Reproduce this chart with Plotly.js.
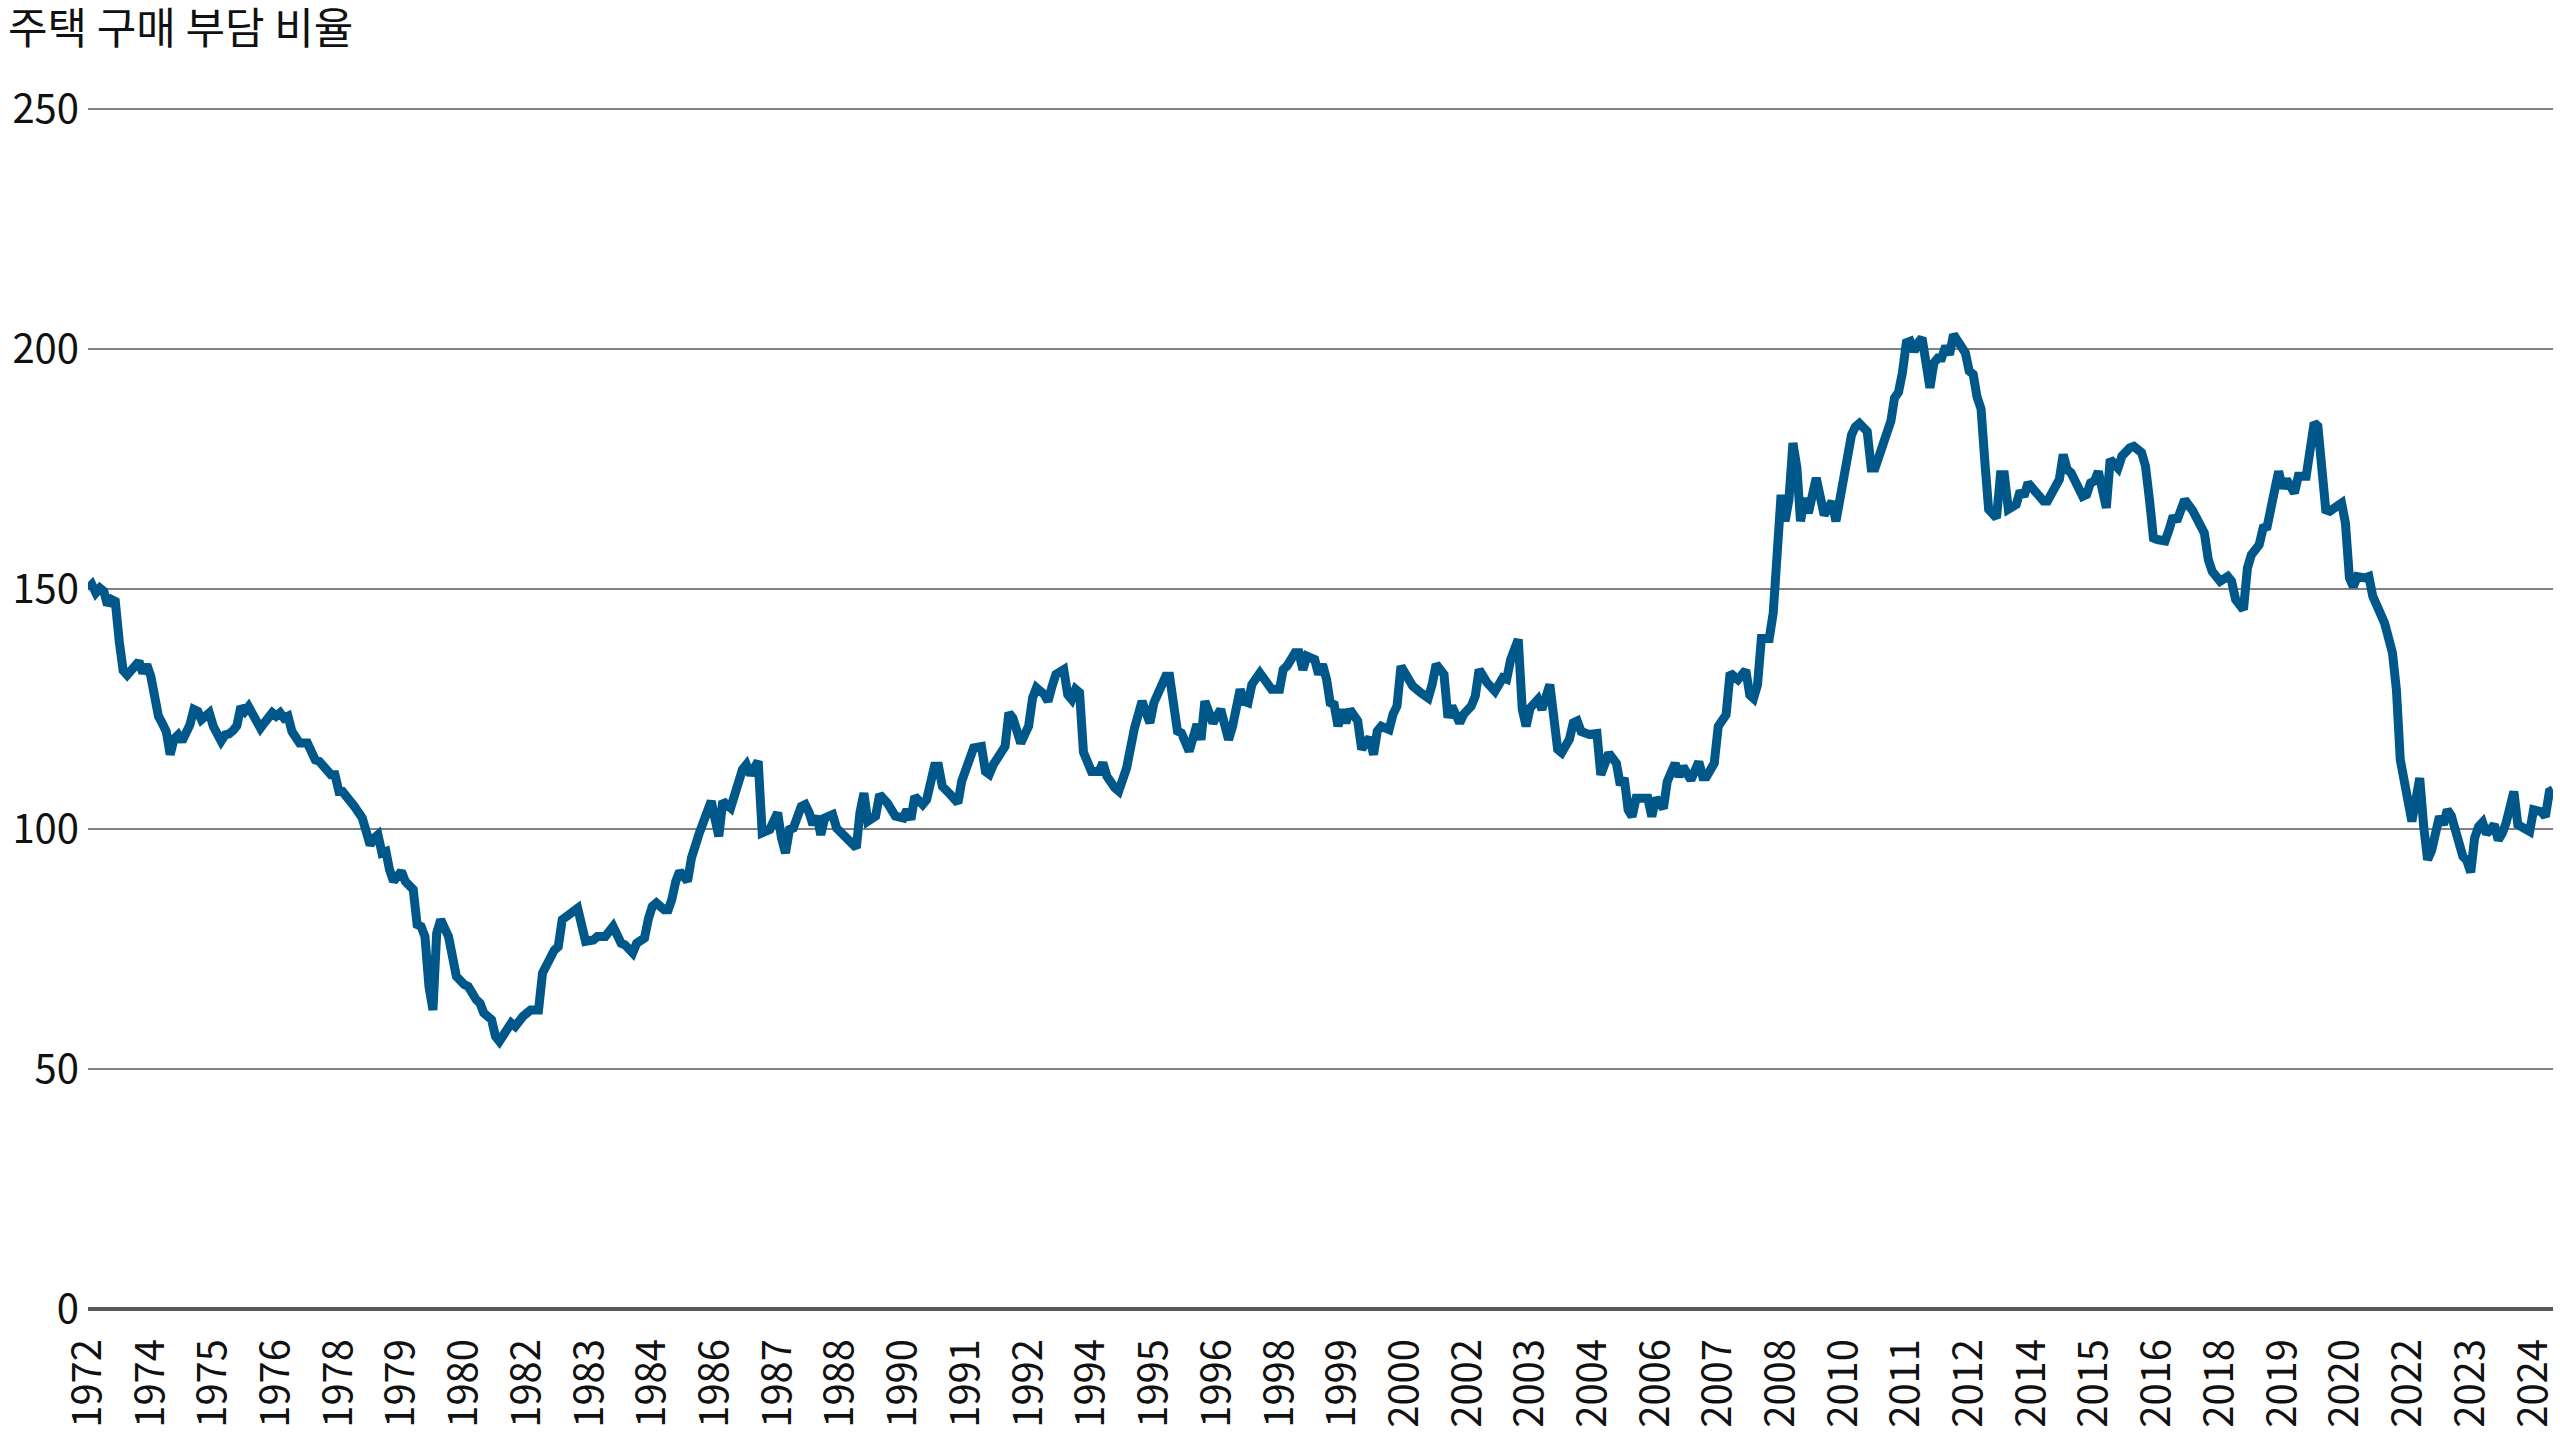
<!DOCTYPE html>
<html><head><meta charset="utf-8">
<script src="https://cdn.plot.ly/plotly-3.0.1.min.js"></script>
<style>html,body{margin:0;padding:0;background:#fff;}#chart{width:2560px;height:1440px;}</style>
</head><body><div id="chart"></div>
<script>
const chartTitle = "주택 구매 부담 비율";

const dates = [
"1972-10","1972-11","1972-12",
"1973-01","1973-02","1973-03","1973-04","1973-05","1973-06","1973-07","1973-08","1973-09","1973-10","1973-11","1973-12",
"1974-01","1974-02","1974-03","1974-04","1974-05","1974-06","1974-07","1974-08","1974-09","1974-10","1974-11","1974-12",
"1975-01","1975-02","1975-03","1975-04","1975-05","1975-06","1975-07","1975-08","1975-09","1975-10","1975-11","1975-12",
"1976-01","1976-02","1976-03","1976-04","1976-05","1976-06","1976-07","1976-08","1976-09","1976-10","1976-11","1976-12",
"1977-01","1977-02","1977-03","1977-04","1977-06","1977-07","1977-08","1977-09","1977-11","1977-12",
"1978-01","1978-02","1978-03","1978-05","1978-06","1978-08","1978-09","1978-10","1978-11","1978-12",
"1979-01","1979-02","1979-03","1979-04","1979-06","1979-07","1979-09","1979-10","1979-11","1979-12",
"1980-01","1980-02","1980-03","1980-04","1980-06","1980-08","1980-10","1980-11",
"1981-01","1981-02","1981-03","1981-05","1981-06","1981-07","1981-10","1981-11",
"1982-01","1982-03","1982-05","1982-06","1982-09","1982-10","1982-11",
"1983-01","1983-03","1983-05","1983-07","1983-08","1983-10","1983-12",
"1984-02","1984-03","1984-05","1984-06","1984-08","1984-09","1984-10","1984-11",
"1985-01","1985-02","1985-03","1985-04","1985-05","1985-07","1985-08","1985-10","1985-12",
"1986-01","1986-03","1986-04","1986-06","1986-07","1986-08","1986-09","1986-10","1986-11",
"1987-01","1987-02","1987-04","1987-06","1987-07","1987-08","1987-09","1987-10","1987-12",
"1988-01","1988-02","1988-03","1988-04","1988-05","1988-06","1988-08","1988-09","1988-11",
"1989-02","1989-03","1989-04","1989-05","1989-07","1989-08","1989-10","1989-12",
"1990-02","1990-03","1990-04","1990-05","1990-07","1990-08","1990-10","1990-11","1990-12",
"1991-02","1991-04","1991-05","1991-08","1991-10","1991-11","1991-12",
"1992-01","1992-03","1992-04","1992-05","1992-06","1992-08","1992-10","1992-11","1992-12",
"1993-02","1993-03","1993-04","1993-05","1993-07","1993-08","1993-09","1993-10","1993-11","1993-12",
"1994-02","1994-04","1994-05","1994-06","1994-08","1994-09","1994-11","1994-12",
"1995-01","1995-03","1995-05","1995-06","1995-07","1995-09","1995-10","1995-12",
"1996-01","1996-03","1996-05","1996-06","1996-07","1996-09","1996-11",
"1997-01","1997-02","1997-04","1997-05","1997-06","1997-07","1997-09","1997-12",
"1998-02","1998-03","1998-04","1998-06","1998-07","1998-08","1998-09","1998-11","1998-12",
"1999-01","1999-02","1999-03","1999-04","1999-05","1999-06","1999-07","1999-08","1999-10","1999-11","1999-12",
"2000-01","2000-02","2000-03","2000-04","2000-06","2000-07","2000-08","2000-09","2000-11","2000-12",
"2001-02","2001-04","2001-05","2001-06","2001-08","2001-09","2001-10","2001-12",
"2002-01","2002-03","2002-04","2002-05","2002-07","2002-09","2002-11","2002-12",
"2003-01","2003-03","2003-04","2003-05","2003-06","2003-08","2003-09","2003-10","2003-11",
"2004-01","2004-02","2004-04","2004-05","2004-06","2004-07","2004-09","2004-11","2004-12",
"2005-02","2005-04","2005-05","2005-06","2005-07","2005-08","2005-09","2005-11","2005-12",
"2006-01","2006-02","2006-04","2006-05","2006-07","2006-08","2006-09","2006-11",
"2007-01","2007-02","2007-03","2007-05","2007-06","2007-08","2007-09","2007-11",
"2008-01","2008-02","2008-03","2008-04","2008-05","2008-07","2008-08","2008-09","2008-10","2008-11","2008-12",
"2009-01","2009-02","2009-03","2009-04","2009-05","2009-07","2009-09","2009-11","2009-12",
"2010-02","2010-03","2010-04","2010-05","2010-06","2010-08","2010-09","2010-10","2010-12",
"2011-02","2011-03","2011-04","2011-05","2011-06","2011-07","2011-08","2011-09","2011-10","2011-12",
"2012-01","2012-02","2012-03","2012-04","2012-05","2012-06","2012-08","2012-09","2012-10","2012-11","2012-12",
"2013-01","2013-02","2013-03","2013-05","2013-06","2013-07","2013-08","2013-10","2013-11","2013-12",
"2014-01","2014-02","2014-04","2014-05","2014-06","2014-07","2014-08","2014-09","2014-10","2014-11","2014-12",
"2015-02","2015-03","2015-04","2015-05","2015-06","2015-07","2015-09","2015-10","2015-12",
"2016-01","2016-03","2016-04","2016-06","2016-07","2016-08","2016-09","2016-10","2016-12",
"2017-01","2017-02","2017-03","2017-05","2017-07","2017-08","2017-10","2017-11","2017-12",
"2018-02","2018-04","2018-05","2018-06","2018-08","2018-09","2018-10","2018-12",
"2019-01","2019-02","2019-04","2019-05","2019-06","2019-07","2019-09","2019-10","2019-12",
"2020-02","2020-03","2020-04","2020-05","2020-06","2020-09","2020-10","2020-11","2020-12",
"2021-01","2021-03","2021-04","2021-05","2021-07","2021-08","2021-10","2021-11","2021-12",
"2022-01","2022-03","2022-04","2022-05","2022-06","2022-07","2022-08","2022-09","2022-10","2022-11","2022-12",
"2023-01","2023-02","2023-03","2023-04","2023-05","2023-06","2023-07","2023-08","2023-09","2023-10","2023-12",
"2024-01","2024-02","2024-03","2024-05","2024-06","2024-09","2024-10","2024-12",
"2025-01","2025-02","2025-03"
];

const values = [
150.0,150.9,149.2,
150.2,149.5,146.7,147.8,147.4,139,133,132.1,133.0,133.9,134.9,132.5,
134.2,131.8,126.2,123.5,122,120.3,115.5,118.8,119.6,118.3,120.0,121.7,
124.9,124.5,122.8,123.5,124.2,121.4,119.3,118.3,119.6,119.8,120.5,121.5,
125.5,124.5,125.5,123.8,122.8,121.0,122.1,123.5,124.2,123.5,124.2,123.1,
123.5,120.3,119.3,117.9,117.9,116.5,114.4,114.1,112.0,111.3,
111.3,107.8,107.8,106.1,104.7,102.3,98.8,96.7,98.1,98.8,
95.0,95.3,91.5,89.1,91.2,89.1,87.4,80.1,79.7,77.6,
67.2,62.3,78.3,81.1,77.6,69.3,67.6,67.2,
64.5,63.7,61.7,60.3,56.8,55.8,59.6,58.9,
61.0,62.3,62.3,70.0,74.8,75.5,81.1,
82.5,83.5,76.6,76.9,77.6,77.6,79.7,
76.2,75.9,74.2,76.2,77.3,81.4,83.9,84.6,
83.2,83.2,85.3,89.1,91.2,89.1,94.0,99.2,103.4,
105.8,98.5,105.8,104.4,107.2,109.3,112.4,113.4,111.3,
114.1,99.2,99.9,103.4,98.1,95.0,99.9,100.2,104.7,
105.1,103.4,100.9,102.7,98.8,102.3,103.0,100.2,98.5,
96.1,103.4,107.5,101.6,102.7,107.2,105.4,102.7,
102.3,104.0,102.0,106.8,105.1,106.1,113.1,113.1,108.9,
107.2,105.4,110.0,116.9,117.2,112.0,111.4,
113.4,115.9,117.2,124.2,123.1,117.9,121.4,127.3,129.4,
128.0,126.6,129.7,132.2,133.2,128.0,127.0,129.1,128.4,116,
112.0,112.0,113.8,111.0,108.6,107.9,112.7,117.9,
121.0,126.6,122.1,126.3,128.0,131.8,131.8,120.4,
120.0,116.2,121.8,118.6,126.6,122.1,124.9,
118.6,121.4,129.1,126.6,126.3,130.1,132.5,129.1,
129.1,133.2,134,136.7,136.7,133.2,136.0,135.3,132.2,
134.3,131.2,126.3,125.9,121.4,124.9,122.1,124.9,122.5,116.6,118.0,
119.0,115.5,120.4,121.4,120.7,123.9,125.6,133.9,131.5,129.8,
128.4,127.3,130.1,134.3,132.2,123.2,125.6,122.1,
123.9,125.6,127.7,133.2,130.5,128.7,131.5,131.2,
135.3,139.5,124.9,121.4,125.2,127.0,124.9,127.7,130.1,
116.6,115.9,118.7,122.1,122.5,120.3,119.7,119.9,111.3,
115.8,113.7,109.2,110.6,104,102.6,106.4,106.4,106.4,
102.6,106.4,104.3,109.9,113.7,110.9,113.0,110.2,
114.0,110.9,110.9,113.7,121.4,123.8,132.5,131.1,
133.1,127.9,127.2,130.0,139.7,139.7,145.0,162.3,169.6,164.1,168.6,
180.4,175.2,164.1,168.9,165.8,173.1,165.4,168.2,164.1,
173.8,178.3,182.1,183.8,184.5,182.8,175.2,175.2,180.5,
185.0,189.8,191,195,201.3,201.6,199.5,201.3,202.3,191.9,
197.1,198.1,198.1,200.6,198.8,203.0,200.9,199.2,195.4,194.7,190.0,
187.5,176,166.6,164.8,173.8,173.8,166.6,167.6,170.4,169.3,
172.1,171.1,169.3,168.3,168.3,170.0,171.4,172.8,178.0,174.9,174.2,
170.7,169.3,169.7,172.1,172.5,174.5,166.9,177.0,175.2,
177.7,179.4,179.7,178.4,175.6,168.6,160.6,160.3,160.0,
162.4,165.2,164.1,168.6,166.4,165.1,161.7,156.1,153.7,
151.6,152.6,151.6,147.8,145.7,154.4,157.1,159.2,
162.7,163.0,170.7,174.5,171.0,172.8,170.0,173.5,173.5,
184.6,183.9,176.2,166.5,166.2,167.9,163.7,152.3,150.5,
152.6,152.3,152.6,148.5,145.4,142.9,136.7,129.0,114.4,
109.2,101.6,106.1,110.6,100.5,93.6,95.5,100.0,102.6,100.9,104.0,
102.8,99.2,97.4,94.3,93.5,91.0,98.1,100.5,101.4,99.0,100.9,
97.7,99.1,101.2,107.8,100.9,99.5,104.0,103.6,
102.6,107.8,108.2
];

const tickLabels = ["1972","1974","1975","1976","1978","1979","1980","1982","1983","1984",
"1986","1987","1988","1990","1991","1992","1994","1995","1996","1998",
"1999","2000","2002","2003","2004","2006","2007","2008","2010","2011",
"2012","2014","2015","2016","2018","2019","2020","2022","2023","2024"];
const yTicks = [0, 50, 100, 150, 200, 250];

// tick positions every 16 months from the first data month
const firstTickYear = 1972, firstTickMonth = 10, tickStepMonths = 16;
const tickvals = tickLabels.map((_, k) => {
  const total = firstTickYear * 12 + (firstTickMonth - 1) + k * tickStepMonths;
  const y = Math.floor(total / 12), m = total % 12 + 1;
  return y + "-" + String(m).padStart(2, "0") + "-01";
});

const FONT = '"Noto Sans CJK KR", "Noto Sans", sans-serif';

const trace = {
  type: "scatter", mode: "lines",
  x: dates, y: values,
  line: { color: "#00578a", width: 9, shape: "linear" },
  hoverinfo: "skip"
};

const layout = {
  width: 2560, height: 1440,
  paper_bgcolor: "#ffffff", plot_bgcolor: "#ffffff",
  margin: { l: 88, r: 7, t: 106.4, b: 127.8, pad: 0 },
  showlegend: false,
  font: { family: FONT, color: "#111111", size: 40 },
  title: {
    text: chartTitle,
    font: { family: FONT, size: 43, color: "#111111" },
    x: 8 / 2560, xref: "container", xanchor: "left",
    y: 1 - 29 / 1440, yref: "container", yanchor: "middle"
  },
  xaxis: {
    type: "date",
    range: [dates[0] + "-01", dates[dates.length - 1] + "-01"],
    tickmode: "array", tickvals: tickvals, ticktext: tickLabels,
    tickangle: -90, ticks: "", showgrid: false, zeroline: false, showline: false,
    tickfont: { family: FONT, size: 40, color: "#111111" },
    ticklabelstandoff: 18
  },
  yaxis: {
    range: [-0.6, 250.6],
    tickmode: "array", tickvals: yTicks,
    ticks: "", showline: false,
    showgrid: true, gridcolor: "#808080", gridwidth: 1.5,
    zeroline: true, zerolinecolor: "#55595e", zerolinewidth: 3.5,
    tickfont: { family: FONT, size: 40, color: "#111111" },
    ticklabelstandoff: 8
  }
};

Plotly.newPlot("chart", [trace], layout, { displayModeBar: false, staticPlot: true });
</script>
</body></html>
